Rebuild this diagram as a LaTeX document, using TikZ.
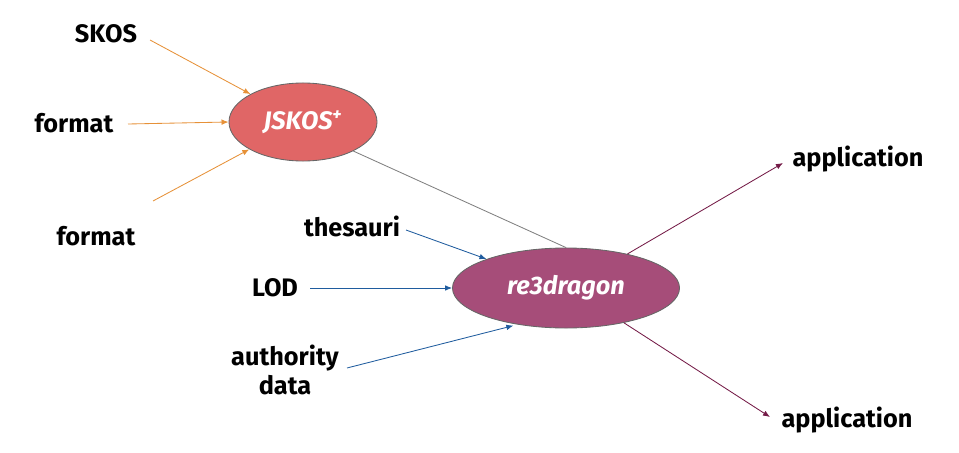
\documentclass[tikz,border=0pt]{standalone}
\usepackage{fontspec}
\setmainfont{Fira Sans}
\usetikzlibrary{shapes.geometric,arrows.meta,positioning,calc}

\definecolor{jskosred}{HTML}{E06666}
\definecolor{dragonpurple}{HTML}{A64D79}
\definecolor{inorange}{HTML}{E69138}
\definecolor{inblue}{HTML}{1F5C9E}
\definecolor{outmaroon}{HTML}{741B47}

\tikzset{
  txt/.style={font=\bfseries\fontsize{18}{21}\selectfont, text=black, align=center},
  blob/.style={ellipse, draw=gray!80!black, line width=0.6pt, inner sep=0pt, text=white,
    font=\bfseries\itshape\fontsize{18}{21}\selectfont},
  arr/.style={-{Latex[length=5pt,width=4pt]}, line width=0.6pt}
}

\begin{document}
\begin{tikzpicture}[x=0.025cm, y=-0.025cm]
\useasboundingbox (0,0) rectangle (959,453);

% ellipses
\node[blob, fill=jskosred, minimum width=3.7cm, minimum height=1.95cm] (jskos) at (303,122) {JSKOS\textsuperscript{+}};
\node[blob, fill=dragonpurple, minimum width=5.675cm, minimum height=2cm] (dragon) at (566,288) {re3dragon};

% texts
\node[txt] (skos) at (106,34) {SKOS};
\node[txt] (formatA) at (74,123) {format};
\node[txt] (formatB) at (96,236) {format};
\node[txt] (thesauri) at (352,226) {thesauri};
\node[txt] (lod) at (275,288) {LOD};
\node[txt] (authority) at (285,370) {authority\\data};
\node[txt] (appA) at (858,159) {application};
\node[txt] (appB) at (847,420) {application};

% free ends of the arrows
\coordinate (skosend) at (150,40);
\coordinate (formatAend) at (128,124);
\coordinate (formatBend) at (153,201);
\coordinate (thesauriend) at (406,230);
\coordinate (lodend) at (310,288);
\coordinate (authorityend) at (347,368);
\coordinate (appAend) at (783,163);
\coordinate (appBend) at (770,417);

\draw[arr, inorange] (skosend) -- (jskos.152);
\draw[arr, inorange] (formatAend) -- (jskos.west);
\draw[arr, inorange] (formatBend) -- (jskos.207);

\draw[gray, line width=0.6pt] (jskos.330) -- (dragon.north);

\draw[arr, inblue] (thesauriend) -- (dragon.160);
\draw[arr, inblue] (lodend) -- (dragon.west);
\draw[arr, inblue, shorten >=3pt] (authorityend) -- (dragon.217);

\draw[arr, outmaroon] (dragon.29) -- (appAend);
\draw[arr, outmaroon] (dragon.329) -- (appBend);
\end{tikzpicture}
\end{document}
